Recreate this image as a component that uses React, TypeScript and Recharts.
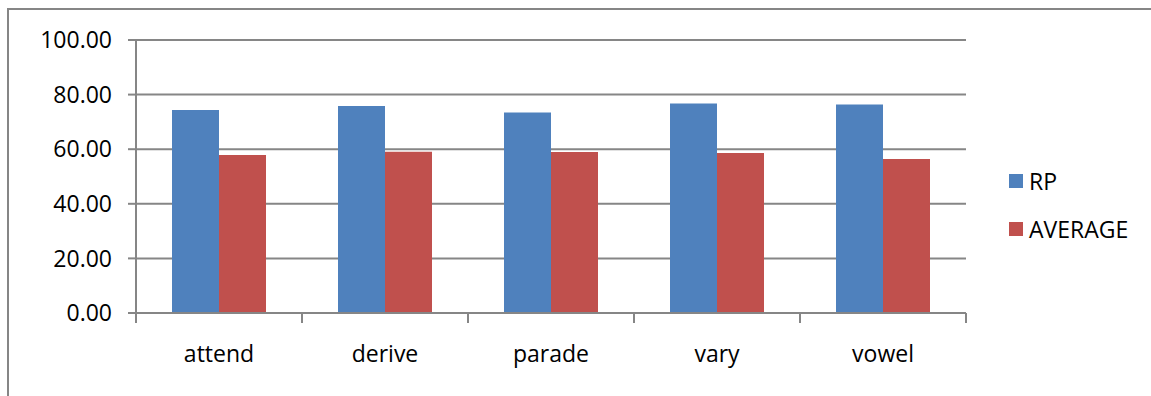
import React from 'react';
import {
  BarChart,
  Bar,
  XAxis,
  YAxis,
  CartesianGrid,
  Legend,
} from 'recharts';

const words = ['attend', 'derive', 'parade', 'vary', 'vowel'];
const rpScores = [74.4, 75.8, 73.4, 76.7, 76.4];
const averageScores = [57.9, 59.1, 59.0, 58.6, 56.4];
const yTicks = [0, 20, 40, 60, 80, 100];

const series = [
  { key: 'rp', name: 'RP', color: '#4F81BD' },
  { key: 'average', name: 'AVERAGE', color: '#C0504D' },
];

const data = words.map((word, i) => ({
  word,
  rp: rpScores[i],
  average: averageScores[i],
}));

const FONT = '"Open Sans", sans-serif';
const LINE = '#868686';
const X_TICK_SIZE = 9;
const X_TICK_MARGIN = 24;

function LegendBox() {
  return (
    <div style={{ fontFamily: FONT, fontSize: 23, color: '#000' }}>
      {series.map((s) => (
        <div key={s.key} style={{ display: 'flex', alignItems: 'center', height: 48 }}>
          <span style={{ width: 14, height: 14, background: s.color, marginRight: 6 }} />
          <span>{s.name}</span>
        </div>
      ))}
    </div>
  );
}

// category label plus tick marks on both edges of its band
function WordTick(props: any) {
  const { x, y, width, visibleTicksCount, payload } = props;
  const half = width / visibleTicksCount / 2;
  const top = y - X_TICK_MARGIN - X_TICK_SIZE;
  const bottom = y - X_TICK_MARGIN;
  return (
    <g>
      <line x1={x - half} x2={x - half} y1={top} y2={bottom + 1} stroke={LINE} strokeWidth={2} />
      <line x1={x + half} x2={x + half} y1={top} y2={bottom + 1} stroke={LINE} strokeWidth={2} />
      <text
        x={x}
        y={y}
        dy="0.71em"
        textAnchor="middle"
        fontFamily={FONT}
        fontSize={23}
        fill="#000"
      >
        {payload.value}
      </text>
    </g>
  );
}

export default function App() {
  return (
    <div
      style={{
        position: 'absolute',
        left: 0,
        top: 0,
        width: 1151,
        height: 396,
        overflow: 'hidden',
        background: '#fff',
      }}
    >
      {/* chart frame, runs off the right and bottom edges */}
      <div
        style={{
          position: 'absolute',
          left: 7,
          top: 8,
          width: 1200,
          height: 450,
          border: `2px solid ${LINE}`,
          boxSizing: 'border-box',
        }}
      />
      <div style={{ position: 'absolute', left: 0, top: 0 }}>
        <BarChart
          width={1151}
          height={396}
          data={data}
          margin={{ top: 40, right: 185, bottom: 0, left: 0 }}
          barGap={0}
          barCategoryGap={36}
        >
          <CartesianGrid vertical={false} stroke={LINE} strokeWidth={2} />
          <XAxis
            dataKey="word"
            height={83}
            tickSize={X_TICK_SIZE}
            tickMargin={X_TICK_MARGIN}
            tickLine={false}
            axisLine={{ stroke: LINE, strokeWidth: 2 }}
            tick={WordTick}
            interval={0}
          />
          <YAxis
            type="number"
            domain={[0, 100]}
            ticks={yTicks}
            width={136}
            tickSize={8}
            tickMargin={16}
            tickFormatter={(v: number) => v.toFixed(2)}
            tickLine={{ stroke: LINE, strokeWidth: 2 }}
            axisLine={{ stroke: LINE, strokeWidth: 2 }}
            tick={{ fontFamily: FONT, fontSize: 23, fill: '#000' }}
          />
          <Legend
            layout="horizontal"
            verticalAlign="middle"
            align="center"
            content={<LegendBox />}
            wrapperStyle={{ position: 'absolute', left: 1009, top: 157, width: 140 }}
          />
          {series.map((s) => (
            <Bar
              key={s.key}
              dataKey={s.key}
              name={s.name}
              fill={s.color}
              isAnimationActive={false}
            />
          ))}
        </BarChart>
      </div>
    </div>
  );
}
